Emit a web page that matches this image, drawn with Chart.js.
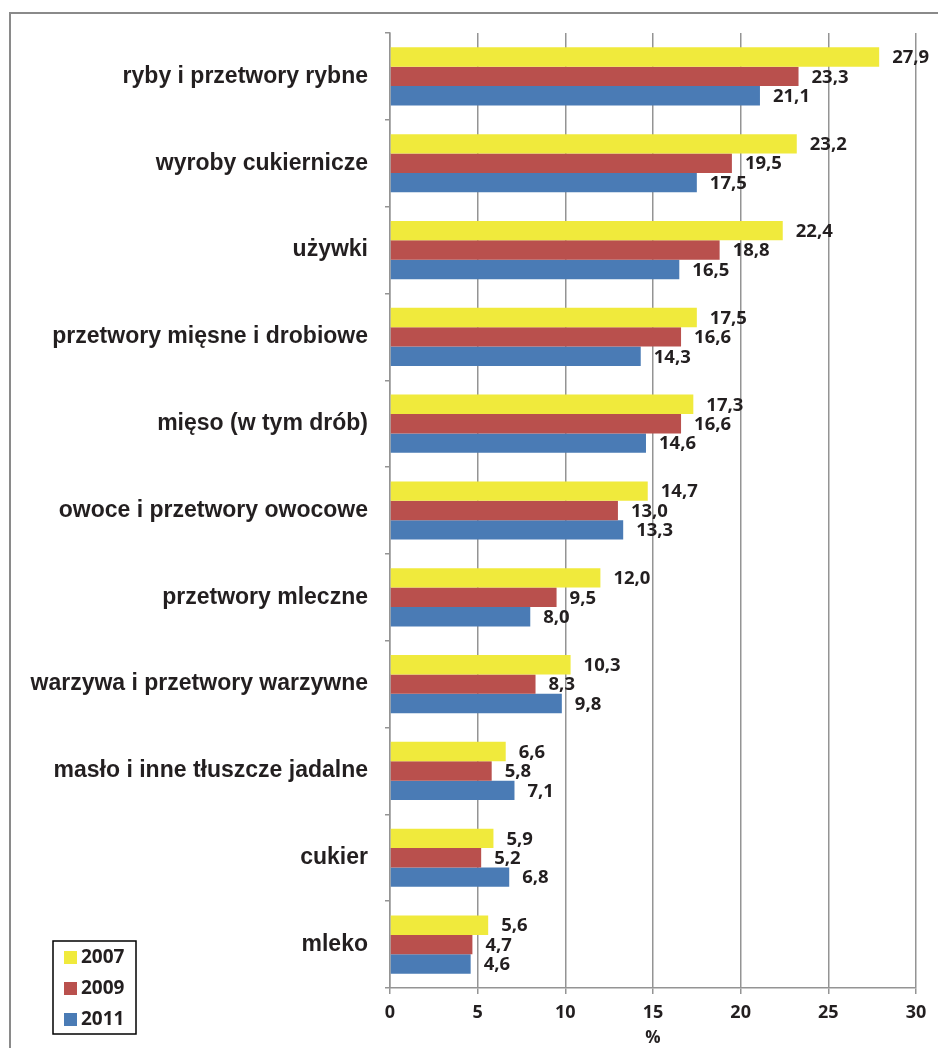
<!DOCTYPE html>
<html>
<head>
<meta charset="utf-8">
<script src="https://cdn.jsdelivr.net/npm/chart.js@4/dist/chart.umd.min.js"></script>
<style>
  html, body { margin: 0; padding: 0; background: #fff; overflow: hidden; }
  #wrap { position: relative; width: 938px; height: 1048px; }
  #frame {
    position: absolute; left: 9px; top: 12px; width: 1000px; height: 1100px;
    border: 2px solid #8a8a8a; box-sizing: border-box;
  }
  canvas { position: absolute; left: 0; top: 0; }
</style>
</head>
<body>
<div id="wrap">
  <div id="frame"></div>
  <canvas id="bar-chart" width="938" height="1048"></canvas>
</div>
<script>
const categories = [
  "ryby i przetwory rybne",
  "wyroby cukiernicze",
  "używki",
  "przetwory mięsne i drobiowe",
  "mięso (w tym drób)",
  "owoce i przetwory owocowe",
  "przetwory mleczne",
  "warzywa i przetwory warzywne",
  "masło i inne tłuszcze jadalne",
  "cukier",
  "mleko",
];
const years = ["2007", "2009", "2011"];
const values2007 = [27.9, 23.2, 22.4, 17.5, 17.3, 14.7, 12.0, 10.3, 6.6, 5.9, 5.6];
const values2009 = [23.3, 19.5, 18.8, 16.6, 16.6, 13.0, 9.5, 8.3, 5.8, 5.2, 4.7];
const values2011 = [21.1, 17.5, 16.5, 14.3, 14.6, 13.3, 8.0, 9.8, 7.1, 6.8, 4.6];
const xTicks = [0, 5, 10, 15, 20, 25, 30];

const colors = ["#f0ea3c", "#b9504d", "#4a7bb5"];
const textColor = "#231f20";
const gridColor = "#949494";

const fmt = (v) => v.toFixed(1).replace(".", ",");

// value labels to the right of each bar
const valueLabels = {
  id: "valueLabels",
  afterDatasetsDraw(chart) {
    const ctx = chart.ctx;
    ctx.save();
    ctx.font = "bold 18.5px 'Open Sans'";
    ctx.fillStyle = textColor;
    ctx.textAlign = "left";
    ctx.textBaseline = "middle";
    chart.data.datasets.forEach((ds, i) => {
      chart.getDatasetMeta(i).data.forEach((bar, j) => {
        ctx.fillText(fmt(ds.data[j]), bar.x + 13, bar.y + 1);
      });
    });
    ctx.restore();
  },
};

// boxed legend in the lower left corner
const boxLegend = {
  id: "boxLegend",
  afterDraw(chart) {
    const ctx = chart.ctx;
    const x = 53, y = 941, w = 83, h = 93;
    ctx.save();
    ctx.strokeStyle = "#000";
    ctx.lineWidth = 1.5;
    ctx.strokeRect(x, y, w, h);
    ctx.font = "bold 19px 'Open Sans'";
    ctx.textAlign = "left";
    ctx.textBaseline = "middle";
    chart.data.datasets.forEach((ds, i) => {
      const cy = y + 16 + i * 31;
      ctx.fillStyle = ds.backgroundColor;
      ctx.fillRect(x + 11, cy - 6, 13, 13);
      ctx.fillStyle = textColor;
      ctx.fillText(ds.label, x + 28, cy + 1);
    });
    ctx.restore();
  },
};

const ctx = document.getElementById("bar-chart");

new Chart(ctx, {
  type: "bar",
  data: {
    labels: categories,
    datasets: [
      { label: years[0], data: values2007, backgroundColor: colors[0] },
      { label: years[1], data: values2009, backgroundColor: colors[1] },
      { label: years[2], data: values2011, backgroundColor: colors[2] },
    ],
  },
  options: {
    indexAxis: "y",
    responsive: false,
    devicePixelRatio: 1,
    animation: false,
    datasets: {
      bar: { categoryPercentage: 0.67, barPercentage: 1.0, borderWidth: 0 },
    },
    layout: { padding: { top: 33, right: 22, left: 0, bottom: 0 } },
    plugins: {
      legend: { display: false },
      tooltip: { enabled: false },
    },
    scales: {
      x: {
        min: 0,
        max: 30,
        afterBuildTicks: (scale) => {
          scale.ticks = xTicks.map((v) => ({ value: v }));
        },
        afterFit: (scale) => {
          scale.height = 60;
        },
        grid: {
          color: gridColor,
          lineWidth: 1.5,
          tickLength: 6,
          tickColor: gridColor,
        },
        border: { color: gridColor, width: 1.5 },
        ticks: {
          color: textColor,
          padding: 8,
          maxRotation: 0,
          font: { family: "'Open Sans'", size: 18, weight: "bold" },
        },
        title: {
          display: true,
          text: "%",
          color: textColor,
          padding: 0,
          font: { family: "'Open Sans'", size: 17, weight: "bold" },
        },
      },
      y: {
        afterFit: (scale) => {
          scale.width = 390;
        },
        grid: {
          drawOnChartArea: false,
          tickLength: 5,
          tickColor: gridColor,
          lineWidth: 1.5,
        },
        border: { color: gridColor, width: 1.5 },
        ticks: {
          color: textColor,
          padding: 17,
          font: { family: "'Liberation Sans'", size: 23, weight: "bold" },
        },
      },
    },
  },
  plugins: [valueLabels, boxLegend],
});
</script>
</body>
</html>
